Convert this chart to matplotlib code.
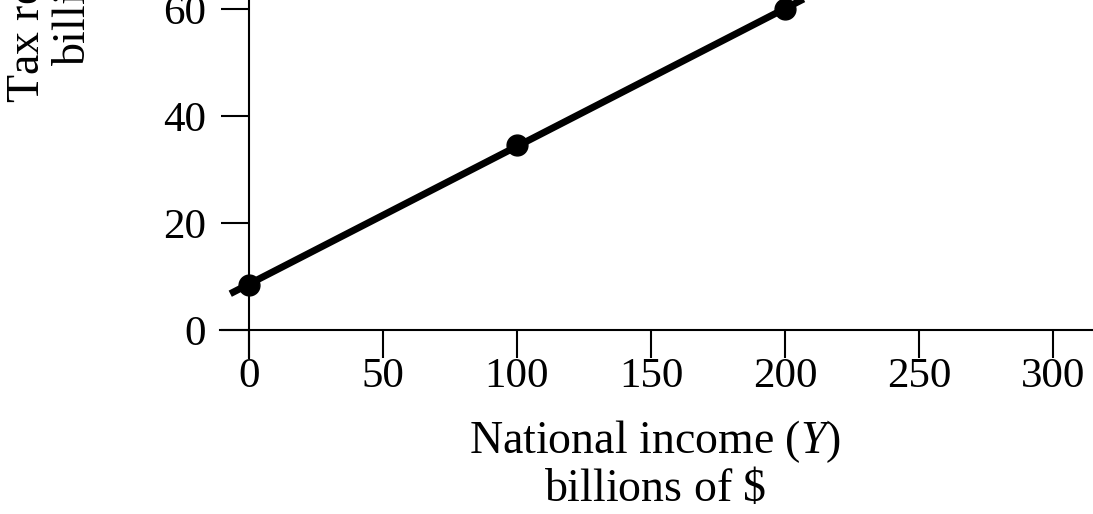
import matplotlib.pyplot as plt
import numpy as np

# データ
income = [0, 100, 200]
tax = [8.5, 34.5, 60]
x_ticks = [0, 50, 100, 150, 200, 250, 300]
y_ticks = [0, 20, 40, 60]
line_ext = [-7, 260]  # 直線の描画範囲

plt.rcParams['font.family'] = ['Liberation Serif', 'DejaVu Serif']
plt.rcParams['mathtext.fontset'] = 'custom'
plt.rcParams['mathtext.rm'] = 'Liberation Serif'
plt.rcParams['mathtext.it'] = 'Liberation Serif:italic'

fig = plt.figure(figsize=(10.93, 5.14), dpi=100)
ax = fig.add_axes([0, 0, 1, 1])

# ピクセル位置に合わせた表示範囲
px_x0, px_per_x = 249, 2.68
px_y0, px_per_y = 330, 5.35
ax.set_xlim(-px_x0 / px_per_x, (1093 - px_x0) / px_per_x)
ax.set_ylim(-(514 - px_y0) / px_per_y, px_y0 / px_per_y)

# 直線 (点を通る)
slope, icpt = np.polyfit(income, tax, 1)
lx = np.array(line_ext)
ax.plot(lx, icpt + slope * lx, color='black', lw=5, solid_capstyle='butt', zorder=3)
ax.plot(income, tax, 'o', color='black', ms=15, zorder=4)

# 軸
for s in ['top', 'right']:
    ax.spines[s].set_visible(False)
ax.spines['bottom'].set_position(('data', 0))
ax.spines['left'].set_position(('data', 0))
ax.spines['bottom'].set_bounds(-11, 330)
ax.spines['left'].set_bounds(-5.2, 70)
for s in ['bottom', 'left']:
    ax.spines[s].set_linewidth(1.5)

ax.set_xticks(x_ticks)
ax.set_yticks(y_ticks)
ax.tick_params(direction='out', length=20, width=1.5, labelsize=31)
ax.tick_params(axis='x', pad=0)
ax.tick_params(axis='y', pad=11)

# ラベル
fig.text(655 / 1093, 1 - 442 / 514, 'National income ($Y$)', ha='center', va='center', fontsize=33)
fig.text(655 / 1093, 1 - 490 / 514, 'billions of $\\$$', ha='center', va='center', fontsize=33)
fig.text(50 / 1093, 1 - 103 / 514, 'Tax revenue ($T$)\nbillions of $\\$$', rotation=90,
         ha='center', va='bottom', multialignment='center', fontsize=33, linespacing=1.05)

fig.savefig('out.png', dpi=100)
